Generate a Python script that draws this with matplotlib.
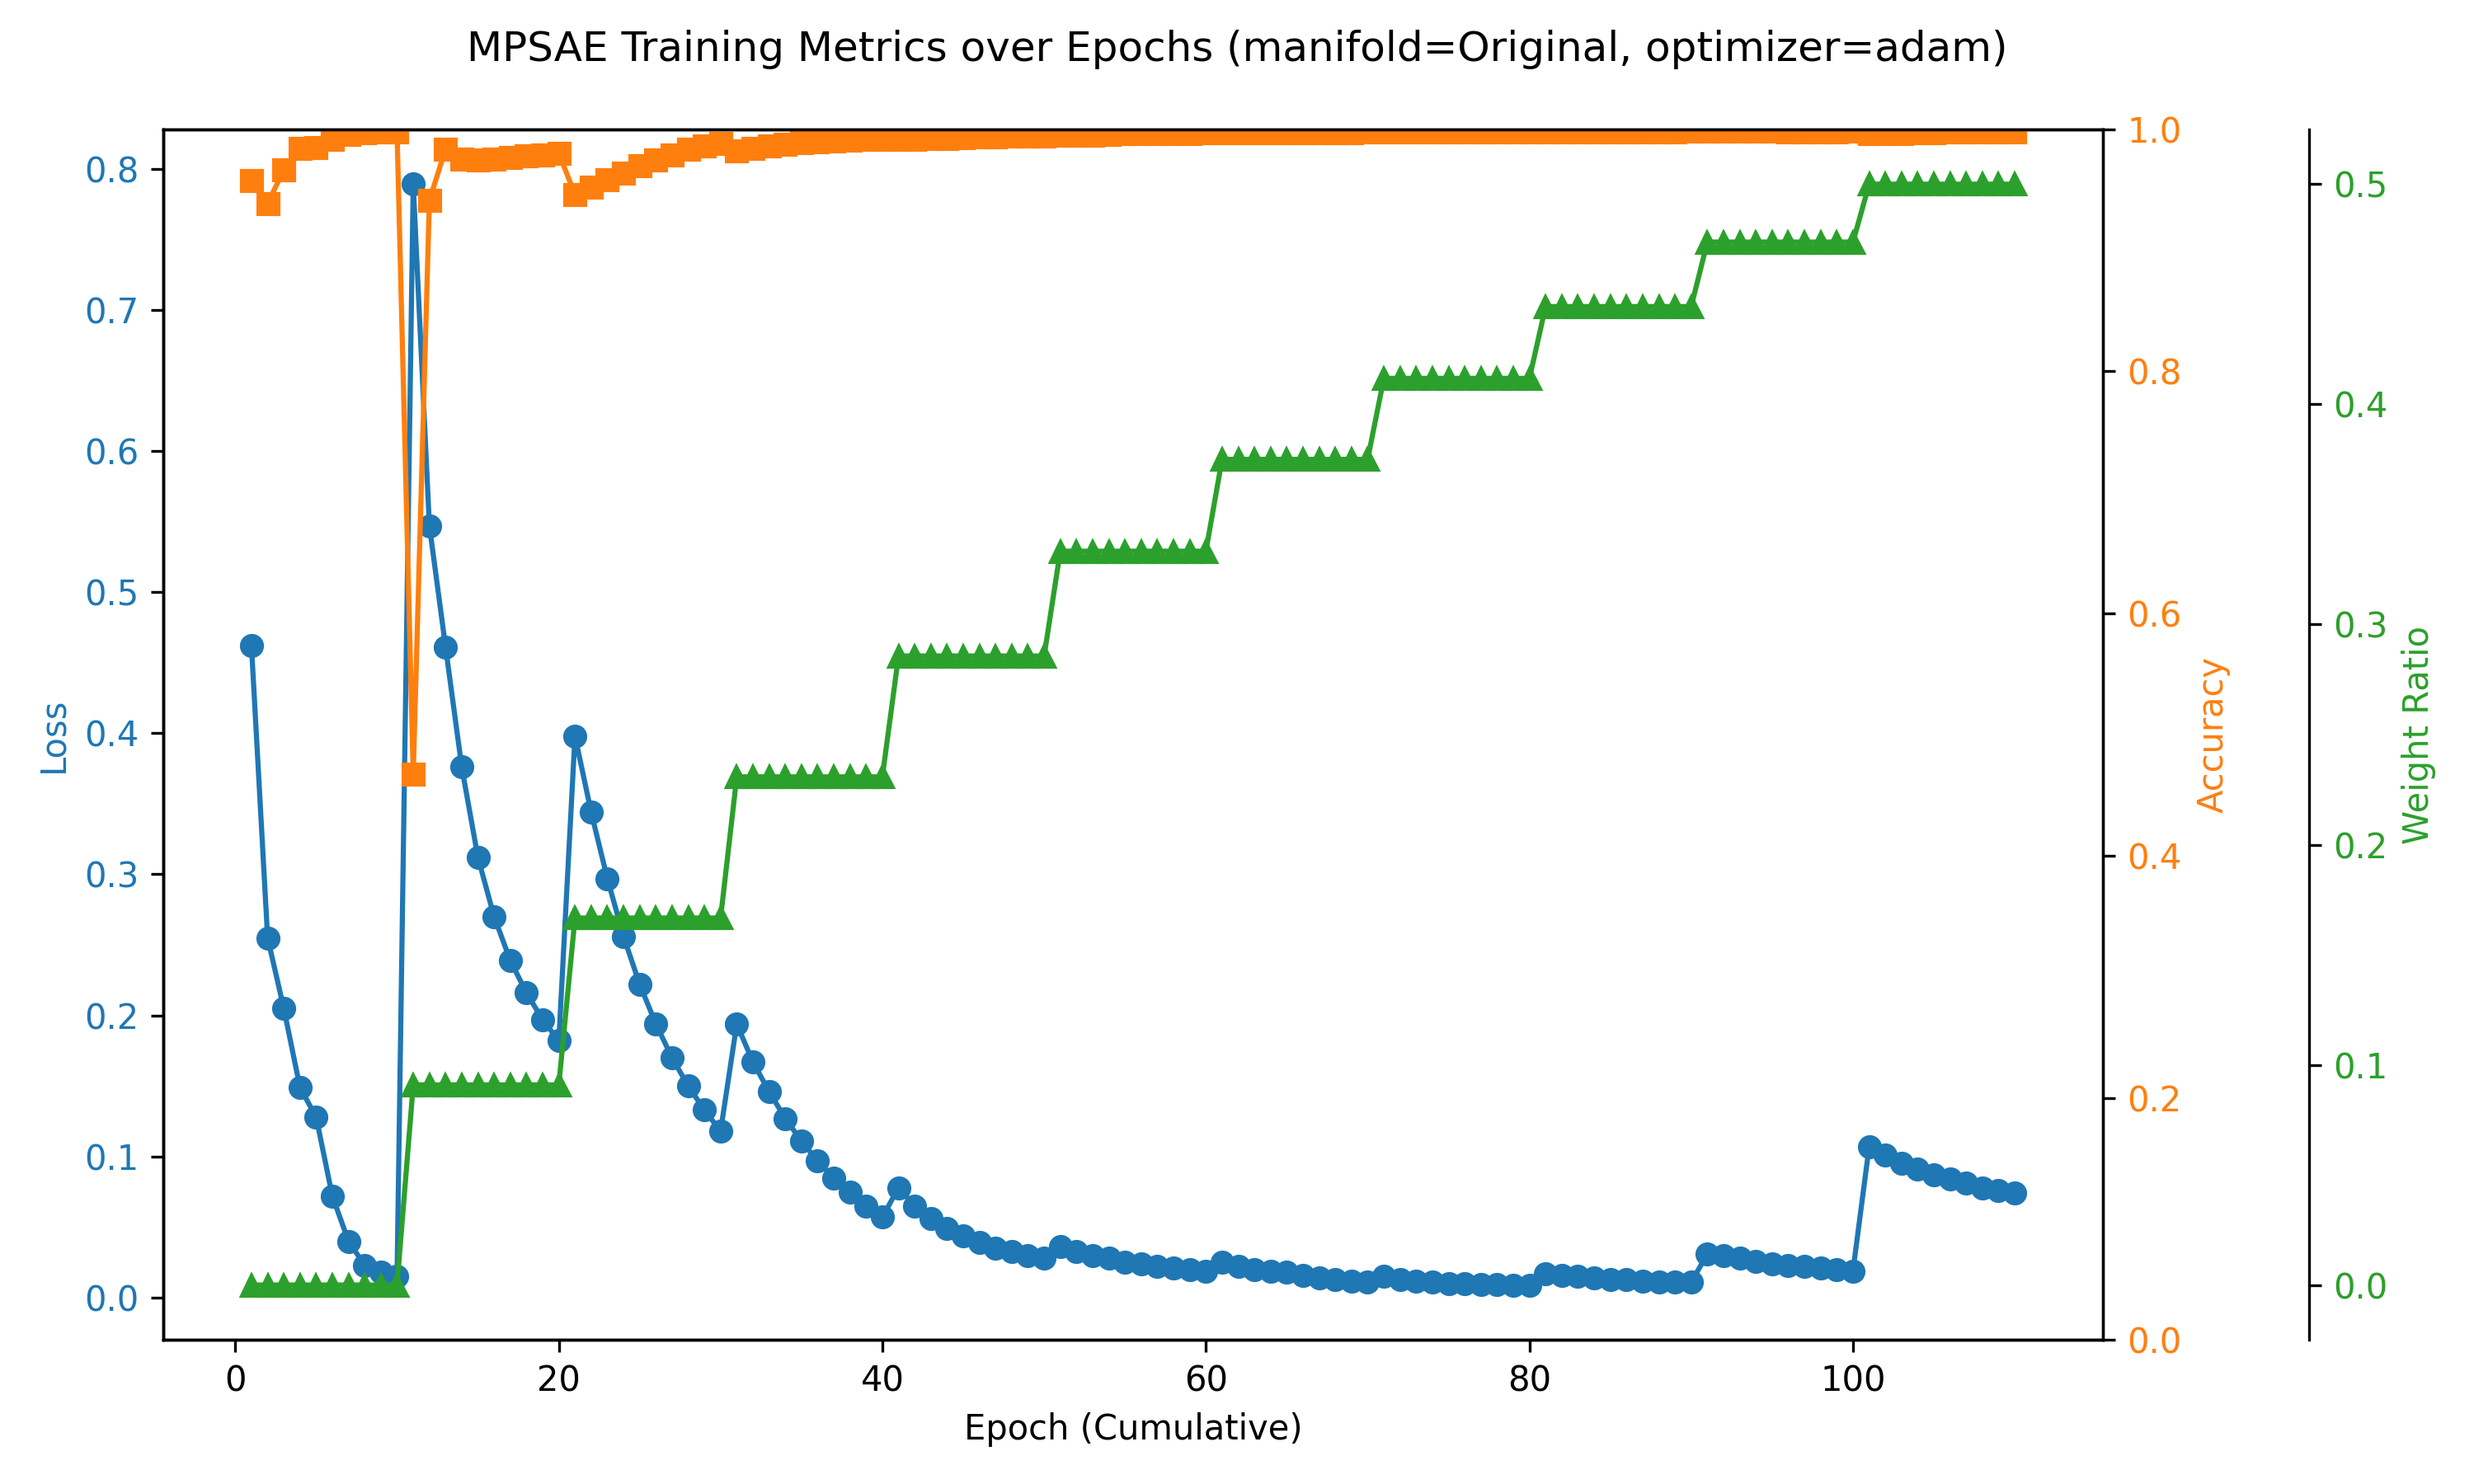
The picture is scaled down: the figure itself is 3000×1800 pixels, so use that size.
import numpy as np
import matplotlib
matplotlib.use("Agg")
import matplotlib.pyplot as plt

# ============================================================
# Data
# ============================================================

epochs = np.arange(1, 111)

loss = [
    0.462, 0.255, 0.205, 0.149, 0.128, 0.072, 0.040, 0.023, 0.018, 0.015,
    0.789, 0.547, 0.461, 0.376, 0.312, 0.270, 0.239, 0.216, 0.197, 0.182,
    0.398, 0.344, 0.297, 0.256, 0.222, 0.194, 0.170, 0.150, 0.133, 0.118,
    0.194, 0.167, 0.146, 0.127, 0.111, 0.097, 0.085, 0.075, 0.065, 0.057,
    0.078, 0.065, 0.056, 0.049, 0.044, 0.039, 0.035, 0.033, 0.030, 0.028,
    0.036, 0.033, 0.030, 0.028, 0.025, 0.024, 0.022, 0.021, 0.020, 0.019,
    0.025, 0.022, 0.020, 0.019, 0.018, 0.016, 0.014, 0.013, 0.012, 0.011,
    0.015, 0.013, 0.012, 0.011, 0.010, 0.010, 0.0095, 0.0094, 0.009, 0.009,
    0.017, 0.016, 0.015, 0.014, 0.013, 0.013, 0.012, 0.011, 0.011, 0.011,
    0.031, 0.030, 0.028, 0.026, 0.024, 0.023, 0.022, 0.021, 0.020, 0.019,
    0.107, 0.101, 0.095, 0.091, 0.087, 0.084, 0.081, 0.078, 0.076, 0.074,
]

accuracy = [
    0.9576, 0.9385, 0.9664, 0.9842, 0.9848, 0.9914, 0.9955, 0.9969, 0.9975, 0.9976,
    0.467, 0.9413, 0.9834, 0.9753, 0.9746, 0.9753, 0.9764, 0.9780, 0.9787, 0.9800,
    0.9460, 0.9522, 0.9583, 0.9637, 0.9698, 0.9744, 0.9787, 0.9834, 0.9862, 0.9882,
    0.9821, 0.9844, 0.9862, 0.9876, 0.9889, 0.9896, 0.9903, 0.9912, 0.9916, 0.9918,
    0.9916, 0.9917, 0.9921, 0.9923, 0.9928, 0.9933, 0.9936, 0.9940, 0.9943, 0.9946,
    0.9947, 0.9949, 0.9953, 0.9956, 0.9960, 0.9961, 0.9962, 0.9963, 0.9964, 0.9967,
    0.9968, 0.9968, 0.9969, 0.9969, 0.9970, 0.9970, 0.9970, 0.9971, 0.9971, 0.9975,
    0.9975, 0.9975, 0.9975, 0.9975, 0.9976, 0.9976, 0.9976, 0.9976, 0.9976, 0.9976,
    0.9976, 0.9976, 0.9977, 0.9977, 0.9977, 0.9977, 0.9977, 0.9978, 0.9978, 0.9981,
    0.9982, 0.9982, 0.9982, 0.9982, 0.9982, 0.9976, 0.9976, 0.9976, 0.9976, 0.9982,
    0.9964, 0.9964, 0.9965, 0.9971, 0.9972, 0.9975, 0.9976, 0.9976, 0.9976, 0.9976,
]

weight_ratio = [
    0.0, 0.0, 0.0, 0.0, 0.0, 0.0, 0.0, 0.0, 0.0, 0.0,
    0.0909, 0.0909, 0.0909, 0.0909, 0.0909, 0.0909, 0.0909, 0.0909, 0.0909, 0.0909,
    0.1667, 0.1667, 0.1667, 0.1667, 0.1667, 0.1667, 0.1667, 0.1667, 0.1667, 0.1667,
    0.2308, 0.2308, 0.2308, 0.2308, 0.2308, 0.2308, 0.2308, 0.2308, 0.2308, 0.2308,
    0.2857, 0.2857, 0.2857, 0.2857, 0.2857, 0.2857, 0.2857, 0.2857, 0.2857, 0.2857,
    0.3333, 0.3333, 0.3333, 0.3333, 0.3333, 0.3333, 0.3333, 0.3333, 0.3333, 0.3333,
    0.375, 0.375, 0.375, 0.375, 0.375, 0.375, 0.375, 0.375, 0.375, 0.375,
    0.4118, 0.4118, 0.4118, 0.4118, 0.4118, 0.4118, 0.4118, 0.4118, 0.4118, 0.4118,
    0.4444, 0.4444, 0.4444, 0.4444, 0.4444, 0.4444, 0.4444, 0.4444, 0.4444, 0.4444,
    0.4737, 0.4737, 0.4737, 0.4737, 0.4737, 0.4737, 0.4737, 0.4737, 0.4737, 0.4737,
    0.5, 0.5, 0.5, 0.5, 0.5, 0.5, 0.5, 0.5, 0.5, 0.5,
]

# ============================================================
# Plot
# ============================================================

fig, ax1 = plt.subplots(figsize=(10, 6), dpi=300)
fig.subplots_adjust(left=0.066, right=0.85, bottom=0.097, top=0.913)

ax1.plot(epochs, loss, "o-", color="tab:blue", label="Loss")
ax1.set_xlabel("Epoch (Cumulative)")
ax1.set_ylabel("Loss", color="tab:blue")
ax1.tick_params(axis="y", labelcolor="tab:blue")

ax2 = ax1.twinx()
ax2.plot(epochs, accuracy, "s-", color="tab:orange", label="Accuracy")
ax2.set_ylabel("Accuracy", color="tab:orange")
ax2.set_ylim(0, 1)
ax2.tick_params(axis="y", labelcolor="tab:orange")

ax3 = ax1.twinx()
ax3.spines["right"].set_position(("outward", 60))
ax3.plot(epochs, weight_ratio, "^-", color="tab:green", label="Weight Ratio")
ax3.set_ylabel("Weight Ratio", color="tab:green")
ax3.tick_params(axis="y", labelcolor="tab:green")

fig.suptitle("MPSAE Training Metrics over Epochs (manifold=Original, optimizer=adam)",
             fontsize=12)

fig.savefig("out.png", dpi=300)
